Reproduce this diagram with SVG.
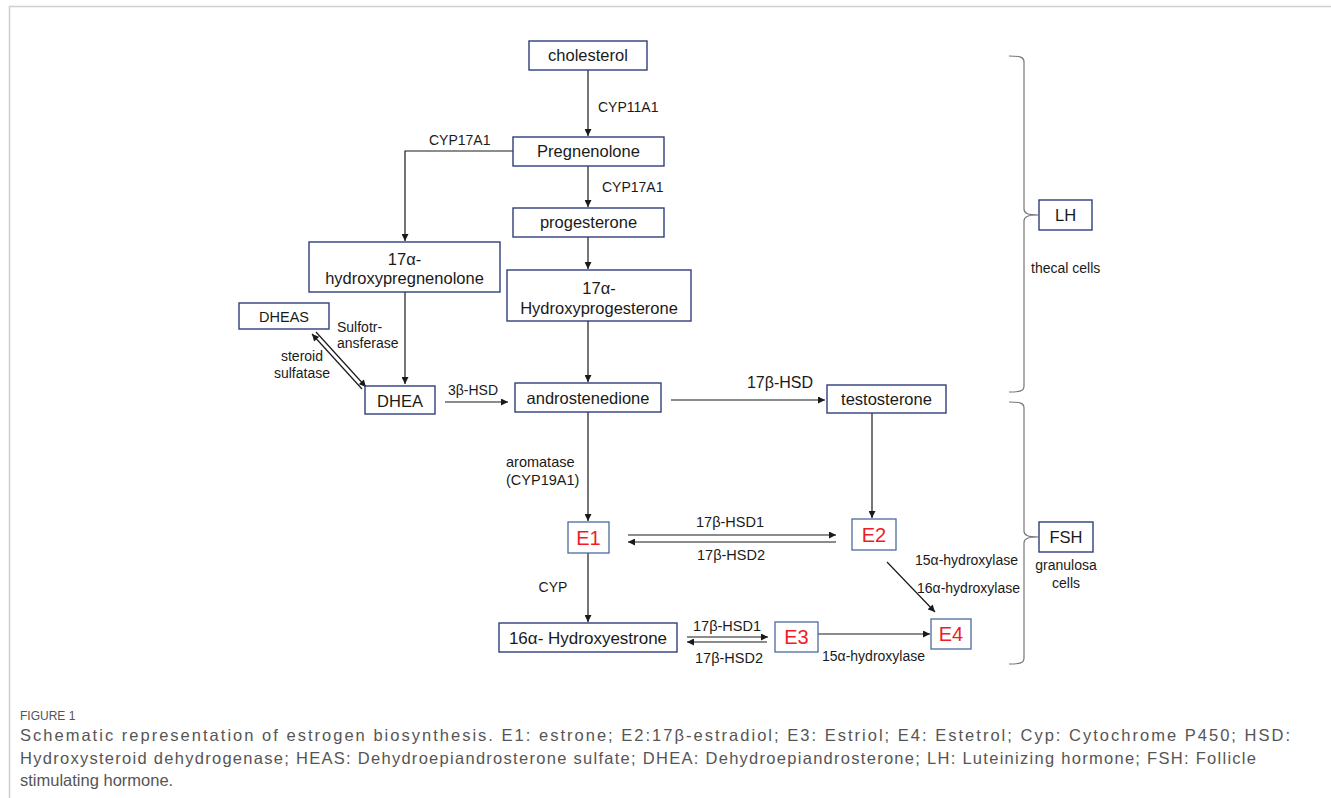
<svg xmlns="http://www.w3.org/2000/svg" width="1331" height="798" viewBox="0 0 1331 798">
<style>
text{font-family:"Liberation Sans",Arial,sans-serif;fill:#1a1a1a}
.box{fill:#fff;stroke:#2e3f7c;stroke-width:1.4}
.ebox{fill:#fff;stroke:#4a6aa0;stroke-width:1.3}
.nt{font-size:16.5px;text-anchor:middle}
.et{font-size:20px;text-anchor:middle;fill:#ee1c24}
.lb{font-size:14px}
.c{text-anchor:middle}
.conn line,.conn path{stroke:#1a1a1a;stroke-width:1.2;fill:none}
.brace{stroke:#777;stroke-width:1.2;fill:none}
.cap{font-family:"Liberation Sans","Open Sans",sans-serif;fill:#555}
</style>
<defs>
<marker id="ah" viewBox="0 0 10 10" refX="10" refY="5" markerWidth="8" markerHeight="7" orient="auto" markerUnits="userSpaceOnUse">
<path d="M0,0 L10,5 L0,10 z" fill="#1a1a1a"/>
</marker>
</defs>
<rect width="1331" height="798" fill="#fff"/>
<line x1="9" y1="6.5" x2="1331" y2="6.5" stroke="#cfcfcf" stroke-width="1.5"/>
<line x1="9.5" y1="6" x2="9.5" y2="798" stroke="#cfcfcf" stroke-width="1.5"/>

<g class="conn">
<line x1="588" y1="70" x2="588" y2="136" marker-end="url(#ah)"/>
<path d="M513,151 H405 V241" marker-end="url(#ah)"/>
<line x1="588" y1="166" x2="588" y2="207" marker-end="url(#ah)"/>
<line x1="588" y1="237" x2="588" y2="269" marker-end="url(#ah)"/>
<line x1="588" y1="321" x2="588" y2="382" marker-end="url(#ah)"/>
<line x1="405" y1="292" x2="405" y2="384" marker-end="url(#ah)"/>
<line x1="445" y1="402" x2="508" y2="402" marker-end="url(#ah)"/>
<line x1="671" y1="400" x2="825" y2="400" marker-end="url(#ah)"/>
<line x1="588" y1="412" x2="588" y2="521" marker-end="url(#ah)"/>
<line x1="872" y1="413" x2="872" y2="518" marker-end="url(#ah)"/>
<line x1="628" y1="535" x2="836" y2="535" marker-end="url(#ah)"/>
<line x1="836" y1="542" x2="628" y2="542" marker-end="url(#ah)"/>
<line x1="588" y1="553" x2="588" y2="622" marker-end="url(#ah)"/>
<line x1="687" y1="637" x2="768" y2="637" marker-end="url(#ah)"/>
<line x1="767" y1="642" x2="687" y2="642" marker-end="url(#ah)"/>
<line x1="818" y1="634" x2="930" y2="634" marker-end="url(#ah)"/>
<line x1="887" y1="562" x2="935" y2="612" marker-end="url(#ah)"/>
<line x1="316" y1="332" x2="366" y2="387" marker-end="url(#ah)"/>
<line x1="362" y1="389" x2="312" y2="334" marker-end="url(#ah)"/>
</g>

<g id="cholesterol"><rect class="box" x="529" y="41" width="118" height="29"/><text class="nt" x="588" y="61">cholesterol</text></g>
<g id="pregnenolone"><rect class="box" x="513" y="137" width="151" height="29"/><text class="nt" x="588.5" y="157">Pregnenolone</text></g>
<g id="progesterone"><rect class="box" x="513" y="208" width="151" height="29"/><text class="nt" x="588.5" y="228">progesterone</text></g>
<g id="ohpreg"><rect class="box" x="309" y="242" width="191" height="50"/><text class="nt" x="404.5" y="265">17α-</text><text class="nt" x="404.5" y="284">hydroxypregnenolone</text></g>
<g id="ohprog"><rect class="box" x="507" y="270" width="184" height="51"/><text class="nt" x="599" y="294">17α-</text><text class="nt" x="599" y="314">Hydroxyprogesterone</text></g>
<g id="dheas"><rect class="box" x="239" y="303" width="90" height="26"/><text class="nt" x="284" y="322" style="font-size:14.5px">DHEAS</text></g>
<g id="dhea"><rect class="box" x="365" y="386" width="70" height="28"/><text class="nt" x="400" y="407">DHEA</text></g>
<g id="androstenedione"><rect class="box" x="515" y="383" width="146" height="29"/><text class="nt" x="588" y="404">androstenedione</text></g>
<g id="testosterone"><rect class="box" x="827" y="385" width="119" height="28"/><text class="nt" x="886.5" y="405">testosterone</text></g>
<g id="e1"><rect class="ebox" x="568" y="522" width="41" height="31"/><text class="et" x="588.5" y="545">E1</text></g>
<g id="e2"><rect class="ebox" x="852" y="519" width="44" height="31"/><text class="et" x="874" y="542">E2</text></g>
<g id="ohestrone"><rect class="box" x="499" y="623" width="178" height="29"/><text class="nt" x="588" y="644" style="font-size:17px">16α- Hydroxyestrone</text></g>
<g id="e3"><rect class="ebox" x="775" y="622" width="43" height="30"/><text class="et" x="796.5" y="644">E3</text></g>
<g id="e4"><rect class="ebox" x="931" y="619" width="40" height="30"/><text class="et" x="951" y="641">E4</text></g>
<g id="lh"><rect class="box" x="1039" y="200" width="53" height="30"/><text class="nt" x="1065.5" y="221">LH</text></g>
<g id="fsh"><rect class="box" x="1039" y="522" width="54" height="30"/><text class="nt" x="1066" y="543">FSH</text></g>

<g id="labels">
<text class="lb" x="598" y="112">CYP11A1</text>
<text class="lb" x="429" y="145">CYP17A1</text>
<text class="lb" x="602" y="192">CYP17A1</text>
<text class="lb" x="337" y="332">Sulfotr-</text>
<text class="lb" x="337" y="348">ansferase</text>
<text class="lb c" x="302" y="361">steroid</text>
<text class="lb c" x="302" y="378">sulfatase</text>
<text class="lb" x="448" y="395">3β-HSD</text>
<text class="c" x="780" y="388" style="font-size:16px">17β-HSD</text>
<text class="lb" x="506" y="467" style="font-size:14.5px">aromatase</text>
<text class="lb" x="506" y="485" style="font-size:14.5px">(CYP19A1)</text>
<text class="lb c" x="730" y="527" style="font-size:14.5px">17β-HSD1</text>
<text class="lb c" x="731" y="560" style="font-size:14.5px">17β-HSD2</text>
<text class="lb c" x="553" y="592">CYP</text>
<text class="lb c" x="727" y="631" style="font-size:14.5px">17β-HSD1</text>
<text class="lb c" x="729" y="663" style="font-size:14.5px">17β-HSD2</text>
<text class="lb" x="822" y="661">15α-hydroxylase</text>
<text class="lb" x="915" y="565">15α-hydroxylase</text>
<text class="lb" x="917" y="593">16α-hydroxylase</text>
<text class="lb" x="1031" y="273">thecal cells</text>
<text class="lb c" x="1066" y="570">granulosa</text>
<text class="lb c" x="1066" y="588">cells</text>
</g>

<g id="braces">
<path class="brace" d="M1009,56 C1020,56 1024,57 1024,62 V209 C1024,213 1027,215 1039,215 C1027,215 1024,217 1024,221 V386 C1024,391 1020,392 1009,392"/>
<path class="brace" d="M1009,402 C1020,402 1024,403 1024,408 V531 C1024,535 1027,537 1039,537 C1027,537 1024,539 1024,543 V658 C1024,663 1020,664 1009,664"/>
</g>

<g id="caption">
<text class="cap" x="20" y="720" style="font-size:12px">FIGURE 1</text>
<text class="cap" x="20" y="741" style="font-size:16.5px" textLength="1270" lengthAdjust="spacing">Schematic representation of estrogen biosynthesis. E1: estrone; E2:17β-estradiol; E3: Estriol; E4: Estetrol; Cyp: Cytochrome P450; HSD:</text>
<text class="cap" x="20" y="764" style="font-size:16.5px" textLength="1236" lengthAdjust="spacing">Hydroxysteroid dehydrogenase; HEAS: Dehydroepiandrosterone sulfate; DHEA: Dehydroepiandrosterone; LH: Luteinizing hormone; FSH: Follicle</text>
<text class="cap" x="20" y="786" style="font-size:16.5px">stimulating hormone.</text>
</g>
</svg>
